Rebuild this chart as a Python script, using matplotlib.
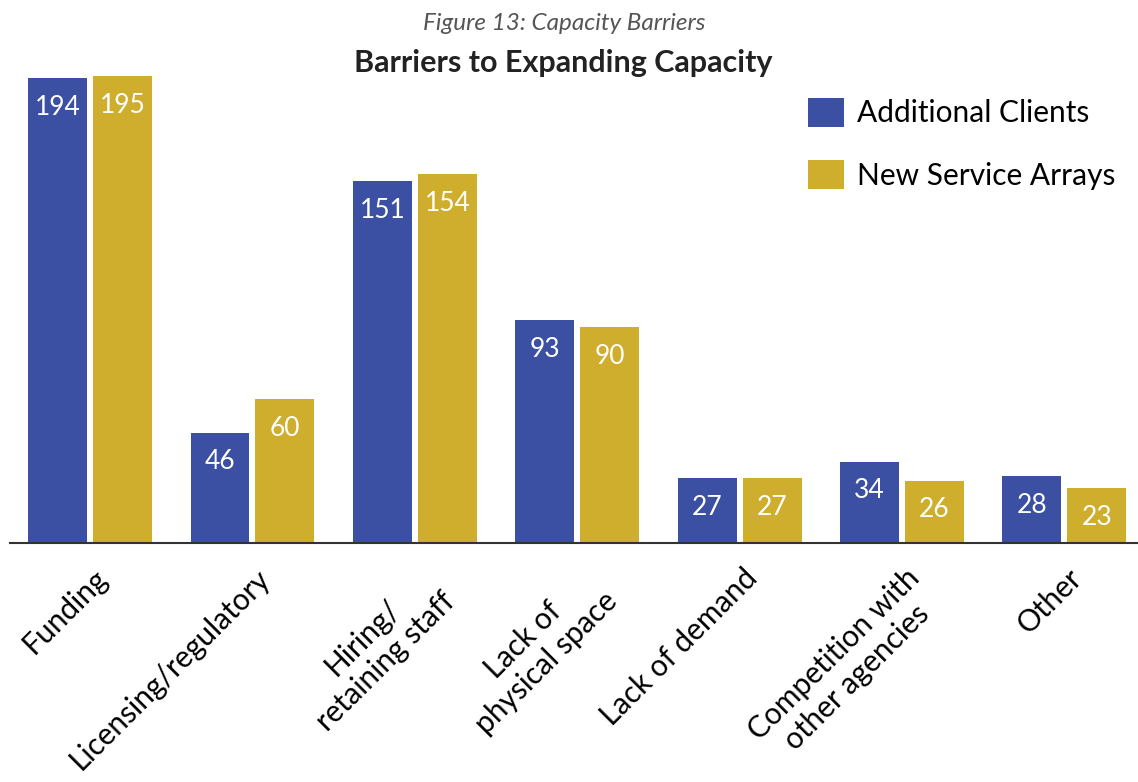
import numpy as np
import matplotlib
matplotlib.use("Agg")
import matplotlib.pyplot as plt
import matplotlib.transforms as mtransforms

# Data
categories = ["Funding", "Licensing/regulatory", "Hiring/\nretaining staff",
              "Lack of\nphysical space", "Lack of demand",
              "Competition with\nother agencies", "Other"]
additional_clients = [194, 46, 151, 93, 27, 34, 28]
new_service_arrays = [195, 60, 154, 90, 27, 26, 23]
series_names = ["Additional Clients", "New Service Arrays"]

blue = "#3B4FA3"
gold = "#CFAE2E"

plt.rcParams["font.family"] = ["Lato", "DejaVu Sans"]

fig = plt.figure(figsize=(11.38, 7.82), dpi=100)
# axes: baseline at y=543px, top (value 200) at y=64px
ax = fig.add_axes([10 / 1138, (782 - 543) / 782, 1128 / 1138, (543 - 64) / 782])

x = np.arange(len(categories))
width = 0.363
off = 0.2
b1 = ax.bar(x - off, additional_clients, width, color=blue, label=series_names[0])
b2 = ax.bar(x + off, new_service_arrays, width, color=gold, label=series_names[1])

for bars, vals in ((b1, additional_clients), (b2, new_service_arrays)):
    for rect, v in zip(bars, vals):
        ax.annotate(str(v), (rect.get_x() + rect.get_width() / 2, v),
                    xytext=(0, -21), textcoords="offset points",
                    ha="center", va="center", color="white", fontsize=19)

ax.set_xlim(-0.493, 6.453)
ax.set_ylim(0, 200)
ax.set_yticks([])
ax.set_xticks(x)
ax.set_xticklabels(categories, rotation=45, ha="right", rotation_mode="anchor",
                   multialignment="center", fontsize=21.5)
ax.tick_params(axis="x", length=0, pad=15)
shift = mtransforms.ScaledTranslation(2 / 72, 0, fig.dpi_scale_trans)
for lbl in ax.get_xticklabels():
    lbl.set_transform(lbl.get_transform() + shift)

for side in ("left", "right", "top"):
    ax.spines[side].set_visible(False)
ax.spines["bottom"].set_color("#333333")
ax.spines["bottom"].set_linewidth(1.5)

fig.text(0.496, 1 - 24 / 782, "Figure 13: Capacity Barriers", ha="center", va="center",
         style="italic", color="#555555", fontsize=17.5)
fig.text(0.495, 1 - 63 / 782, "Barriers to Expanding Capacity", ha="center", va="center",
         fontweight="bold", color="#222222", fontsize=22)

ax.legend(loc="upper left", bbox_to_anchor=(808 / 1138, 1 - 98 / 782),
          bbox_transform=fig.transFigure, frameon=False, fontsize=21.5,
          handlelength=1.2, handleheight=1.1, labelspacing=1.1,
          handletextpad=0.45, borderaxespad=0, borderpad=0)

fig.savefig("out.png", dpi=100)
